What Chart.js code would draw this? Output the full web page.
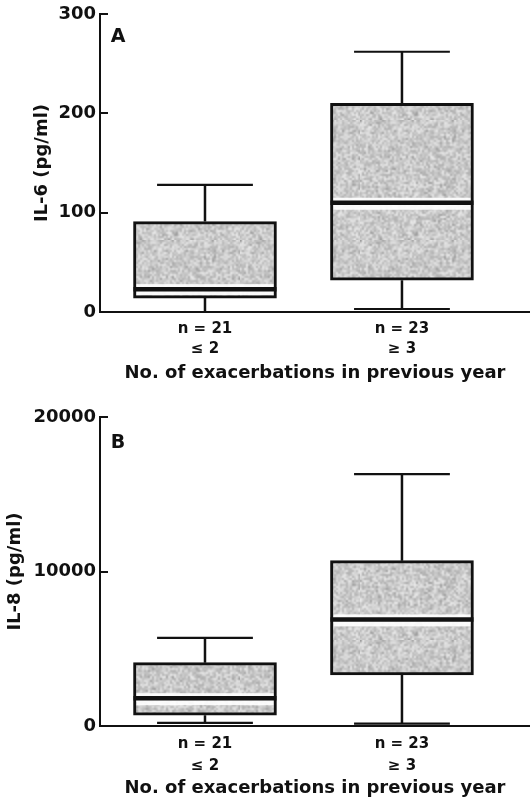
<!DOCTYPE html>
<html>
<head>
<meta charset="utf-8">
<script src="https://cdn.jsdelivr.net/npm/chart.js@4.4.1/dist/chart.umd.min.js"></script>
<style>
  html, body { margin: 0; padding: 0; background: #fff; }
  .panel { position: relative; width: 530px; }
  #il6Wrap { height: 400px; }
  #il8Wrap { height: 402px; }
</style>
</head>
<body>
<div class="panel" id="il6Wrap"><canvas id="il6Chart"></canvas></div>
<div class="panel" id="il8Wrap"><canvas id="il8Chart"></canvas></div>
<script>
const groups = ['≤ 2', '≥ 3'];
const counts = [21, 23];
const positions = [1, 2];

// IL-6 (pg/ml): whisker ends, quartiles, medians
const il6Min = [0, 3];
const il6Q1 = [14, 32];
const il6Median = [23, 110];
const il6Q3 = [91, 210];
const il6Max = [128, 262];

// IL-8 (pg/ml)
const il8Min = [200, 150];
const il8Q1 = [700, 3300];
const il8Median = [1800, 6900];
const il8Q3 = [4100, 10700];
const il8Max = [5700, 16300];

const FONT = "'DejaVu Sans', sans-serif";
const INK = '#111';

// soft speckled grey fill for the boxes
function stipplePattern() {
  const small = 60, size = 120;
  const src = document.createElement('canvas');
  src.width = small; src.height = small;
  const sg = src.getContext('2d');
  const img = sg.createImageData(small, small);
  let s = 7;
  function rnd() {
    s |= 0; s = s + 0x6D2B79F5 | 0;
    let t = Math.imul(s ^ s >>> 15, 1 | s);
    t = t + Math.imul(t ^ t >>> 7, 61 | t) ^ t;
    return ((t ^ t >>> 14) >>> 0) / 4294967296;
  }
  for (let p = 0; p < img.data.length; p += 4) {
    let v = 205 + (rnd() - 0.5) * 56;
    if (rnd() < 0.15) v -= 20;
    img.data[p] = img.data[p + 1] = img.data[p + 2] = v;
    img.data[p + 3] = 255;
  }
  sg.putImageData(img, 0, 0);
  const c = document.createElement('canvas');
  c.width = size; c.height = size;
  const g = c.getContext('2d');
  g.imageSmoothingEnabled = true;
  g.drawImage(src, 0, 0, size, size);
  return g.createPattern(c, 'repeat');
}

// whiskers, caps, medians and the panel letter
const boxParts = {
  id: 'boxParts',
  afterDatasetsDraw(chart, args, opts) {
    const ctx = chart.ctx;
    const x = chart.scales.x, y = chart.scales.y;
    const bars = chart.getDatasetMeta(0).data;
    ctx.save();
    positions.forEach((pos, i) => {
      const cx = x.getPixelForValue(pos);
      const half = bars[i].width / 2;
      const capHalf = half * 0.67;
      const yMin = y.getPixelForValue(opts.min[i]);
      const yQ1 = y.getPixelForValue(opts.q1[i]);
      const yMed = y.getPixelForValue(opts.median[i]);
      const yQ3 = y.getPixelForValue(opts.q3[i]);
      const yMax = y.getPixelForValue(opts.max[i]);

      ctx.strokeStyle = INK;
      ctx.lineWidth = 2.5;
      ctx.beginPath();
      ctx.moveTo(cx, yQ3); ctx.lineTo(cx, yMax);
      ctx.moveTo(cx, yQ1); ctx.lineTo(cx, yMin);
      ctx.stroke();

      ctx.lineWidth = 2.2;
      ctx.beginPath();
      ctx.moveTo(cx - capHalf, yMax); ctx.lineTo(cx + capHalf, yMax);
      ctx.moveTo(cx - capHalf, yMin); ctx.lineTo(cx + capHalf, yMin);
      ctx.stroke();

      // pale gap around the median, kept inside the box border
      ctx.save();
      ctx.beginPath();
      ctx.rect(cx - half + 3, yQ3 + 3, half * 2 - 6, yQ1 - yQ3 - 6);
      ctx.clip();
      ctx.fillStyle = 'rgba(255,255,255,0.9)';
      ctx.fillRect(cx - half, yMed - 5, half * 2, 12);
      ctx.restore();

      ctx.lineWidth = 4.5;
      ctx.beginPath();
      ctx.moveTo(cx - half, yMed); ctx.lineTo(cx + half, yMed);
      ctx.stroke();
    });

    ctx.fillStyle = INK;
    ctx.font = 'bold 19px ' + FONT;
    ctx.textAlign = 'center';
    ctx.textBaseline = 'middle';
    ctx.fillText(opts.letter, opts.letterX, opts.letterY);
    ctx.restore();
  }
};

function makePanel(canvasId, cfg) {
  const fill = stipplePattern();
  return new Chart(document.getElementById(canvasId), {
    type: 'bar',
    data: {
      datasets: [{
        data: positions.map((p, i) => ({ x: p, y: [cfg.q1[i], cfg.q3[i]] })),
        backgroundColor: fill,
        borderColor: INK,
        borderWidth: 3,
        borderSkipped: false,
        barThickness: 143
      }]
    },
    plugins: [boxParts],
    options: {
      responsive: true,
      maintainAspectRatio: false,
      animation: false,
      layout: { padding: { top: cfg.top, right: 0, left: 0, bottom: 0 } },
      plugins: {
        legend: { display: false },
        tooltip: { enabled: false },
        boxParts: cfg
      },
      scales: {
        x: {
          type: 'linear',
          offset: false,
          min: 0.467,
          max: 2.65,
          afterBuildTicks: (s) => { s.ticks = positions.map(v => ({ value: v })); },
          afterFit: (s) => { s.height = cfg.xHeight; },
          grid: { display: false },
          border: { display: true, color: INK, width: 2 },
          ticks: {
            autoSkip: false,
            maxRotation: 0,
            padding: -1,
            color: INK,
            font: { family: FONT, size: 15, weight: 'bold', lineHeight: cfg.labelLine },
            callback: (v) => {
              const i = positions.indexOf(v);
              return i < 0 ? '' : ['n = ' + counts[i], groups[i]];
            }
          },
          title: {
            display: true,
            text: 'No. of exacerbations in previous year',
            color: INK,
            font: { family: FONT, size: 18, weight: 'bold', lineHeight: 1.2 },
            padding: { top: 0, bottom: cfg.titlePad }
          }
        },
        y: {
          min: 0,
          max: cfg.yMax,
          afterFit: (s) => { s.width = 100; s.paddingTop = 0; s.paddingBottom = 0; },
          grid: { drawOnChartArea: false, drawTicks: true, tickLength: -8, color: INK, lineWidth: 2 },
          border: { display: true, color: INK, width: 2 },
          ticks: {
            stepSize: cfg.yStep,
            padding: 12,
            color: INK,
            font: { family: FONT, size: 18, weight: 'bold' },
            callback: (v) => String(v)
          },
          title: {
            display: true,
            text: cfg.yTitle,
            color: INK,
            font: { family: FONT, size: 18, weight: 'bold', lineHeight: 1.2 },
            padding: { top: cfg.yTitlePad, bottom: 0 }
          }
        }
      }
    }
  });
}

makePanel('il6Chart', {
  min: il6Min, q1: il6Q1, median: il6Median, q3: il6Q3, max: il6Max,
  yMax: 300, yStep: 100, yTitle: 'IL-6 (pg/ml)', yTitlePad: 32,
  top: 14, xHeight: 88, labelLine: 1.33, titlePad: 16,
  letter: 'A', letterX: 118, letterY: 37
});

makePanel('il8Chart', {
  min: il8Min, q1: il8Q1, median: il8Median, q3: il8Q3, max: il8Max,
  yMax: 20000, yStep: 10000, yTitle: 'IL-8 (pg/ml)', yTitlePad: 5,
  top: 17, xHeight: 76, labelLine: 1.45, titlePad: 3,
  letter: 'B', letterX: 118, letterY: 43
});
</script>
</body>
</html>
